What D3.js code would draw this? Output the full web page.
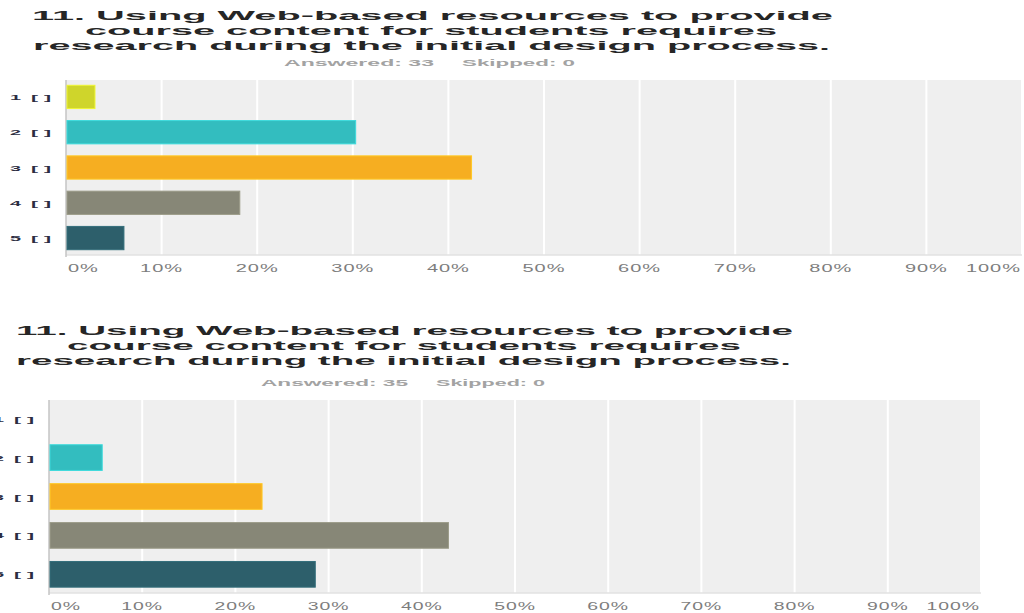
<!DOCTYPE html>
<html>
<head>
<meta charset="utf-8">
<script src="https://cdn.jsdelivr.net/npm/d3@7"></script>
<style>
  body { margin: 0; background: #fff; }
  svg { display: block; font-family: "Liberation Sans", Arial, sans-serif; }
</style>
</head>
<body>
<div id="chart"></div>
<script>
// data
var categories = ["1 [ ]", "2 [ ]", "3 [ ]", "4 [ ]", "5 [ ]"];
var barColors = ["#cfd52b", "#33bdbf", "#f6ae21", "#878777", "#2d5f6b"];
var titleLines = [
    "11. Using Web-based resources to provide",
    "course content for students requires",
    "research during the initial design process."
];
var answered = [33, 35];
var skipped = [0, 0];
var values1 = [3.03, 30.30, 42.42, 18.18, 6.06];
var values2 = [0, 5.71, 22.86, 42.86, 28.57];
var tickValues = [0, 10, 20, 30, 40, 50, 60, 70, 80, 90, 100];

var svg = d3.select("#chart").append("svg")
    .attr("width", 1024)
    .attr("height", 613);

// layout of each panel (it is a stretched screenshot, so text gets squeezed wide)
var panels = [
    { values: values1, n: 0, x0: 66, x1: 1022, y0: 80, y1: 255,
      titleY: [20, 35, 49.5], titleX: [[32, 833], [85, 777], [33, 830]],
      ansY: 66, ansX: [284, 434], skipX: [462, 575], tickY: 272, stretch: 2.0 },
    { values: values2, n: 1, x0: 49, x1: 981, y0: 400, y1: 593,
      titleY: [335, 350, 365], titleX: [[16, 793], [67, 741], [16, 791]],
      ansY: 386, ansX: [261, 408], skipX: [436, 545], tickY: 610, stretch: 1.94 }
];

panels.forEach(function (p) {
    var g = svg.append("g");

    var x = d3.scaleLinear().domain([0, 100]).range([p.x0, p.x1]);
    var y = d3.scaleBand().domain(categories).range([p.y0, p.y1])
        .paddingInner(0.34).paddingOuter(0.15);

    // title
    titleLines.forEach(function (t, i) {
        g.append("text")
            .attr("x", p.titleX[i][0])
            .attr("y", p.titleY[i])
            .attr("textLength", p.titleX[i][1] - p.titleX[i][0])
            .attr("lengthAdjust", "spacingAndGlyphs")
            .style("font-size", "13px")
            .style("font-weight", "bold")
            .style("fill", "#262626")
            .text(t);
    });

    g.append("text")
        .attr("x", p.ansX[0]).attr("y", p.ansY)
        .attr("textLength", p.ansX[1] - p.ansX[0])
        .attr("lengthAdjust", "spacingAndGlyphs")
        .style("font-size", "9px").style("font-weight", "bold")
        .style("fill", "#a3a3a3")
        .text("Answered: " + answered[p.n]);

    g.append("text")
        .attr("x", p.skipX[0]).attr("y", p.ansY)
        .attr("textLength", p.skipX[1] - p.skipX[0])
        .attr("lengthAdjust", "spacingAndGlyphs")
        .style("font-size", "9px").style("font-weight", "bold")
        .style("fill", "#a3a3a3")
        .text("Skipped: " + skipped[p.n]);

    // plot background
    g.append("rect")
        .attr("x", p.x0).attr("y", p.y0)
        .attr("width", p.x1 - p.x0).attr("height", p.y1 - p.y0)
        .attr("fill", "#efefef");

    // grid lines
    g.selectAll(".grid")
        .data(tickValues.slice(1))
        .enter().append("line")
        .attr("x1", function (d) { return x(d); })
        .attr("x2", function (d) { return x(d); })
        .attr("y1", p.y0).attr("y2", p.y1)
        .attr("stroke", "#fff")
        .attr("stroke-width", 2);

    g.append("line")
        .attr("x1", p.x0).attr("x2", p.x1)
        .attr("y1", p.y1).attr("y2", p.y1)
        .attr("stroke", "#e2e2e2").attr("stroke-width", 1.5);

    g.append("line")
        .attr("x1", p.x0).attr("x2", p.x0)
        .attr("y1", p.y0).attr("y2", p.y1 + 2)
        .attr("stroke", "#c4c4c4").attr("stroke-width", 1.5);

    // bars
    g.selectAll(".bar")
        .data(p.values)
        .enter().append("rect")
        .attr("x", x(0) + 1)
        .attr("y", function (d, i) { return y(categories[i]); })
        .attr("width", function (d) { return Math.max(0, x(d) - x(0) - 1); })
        .attr("height", y.bandwidth())
        .attr("fill", function (d, i) { return barColors[i]; })
        .attr("stroke", function (d, i) { return d > 0 ? d3.color(barColors[i]).brighter(0.4) : "none"; })
        .attr("stroke-width", 1);

    // category labels: the number, then the empty brackets
    var cat = g.selectAll(".cat")
        .data(categories)
        .enter().append("g")
        .attr("transform", function (d) {
            return "translate(0," + (y(d) + y.bandwidth() / 2 + 3) + ")";
        })
        .style("font-size", "8px")
        .style("font-weight", "bold")
        .style("fill", "#2b2d42");

    cat.append("text")
        .attr("x", p.x0 - 56)
        .attr("textLength", 11)
        .attr("lengthAdjust", "spacingAndGlyphs")
        .text(function (d) { return d.split(" ")[0]; });

    cat.append("text")
        .attr("x", p.x0 - 35)
        .attr("textLength", 20)
        .attr("lengthAdjust", "spacingAndGlyphs")
        .text(function (d) { return d.slice(d.indexOf(" ") + 1); });

    // x tick labels
    g.selectAll(".tick")
        .data(tickValues)
        .enter().append("text")
        .attr("transform", function (d, i) {
            var tx = x(d);
            if (i === 0) tx = x(d) + 2;
            if (i === tickValues.length - 1) tx = x(d) - 1;
            return "translate(" + tx + "," + p.tickY + ") scale(" + p.stretch + ",1)";
        })
        .attr("text-anchor", function (d, i) {
            return i === 0 ? "start" : (i === tickValues.length - 1 ? "end" : "middle");
        })
        .style("font-size", "10px")
        .style("letter-spacing", "0.5px")
        .style("fill", "#7d7d7d")
        .text(function (d) { return d + "%"; });
});
</script>
</body>
</html>
